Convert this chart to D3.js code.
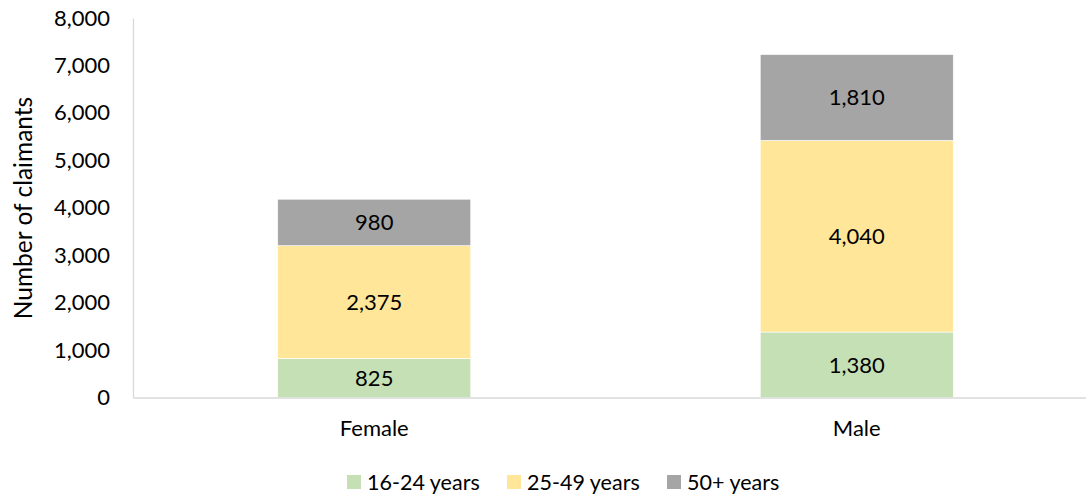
<!DOCTYPE html>
<html><head><meta charset="utf-8">
<script src="https://cdn.jsdelivr.net/npm/d3@7"></script>
<style>body{margin:0;background:#fff}svg{display:block;font-family:Lato,"Open Sans",sans-serif}</style>
</head><body><svg id="c" width="1086" height="495"></svg>
<script>
const categories = ["Female", "Male"];
const seriesNames = ["16-24 years", "25-49 years", "50+ years"];
const age16_24 = [825, 1380];
const age25_49 = [2375, 4040];
const age50plus = [980, 1810];
const yTicks = [0, 1000, 2000, 3000, 4000, 5000, 6000, 7000, 8000];
const colors = ["#C5E0B4", "#FFE699", "#A5A5A5"];

const svg = d3.select("#c");
const fmt = d3.format(",");
const rows = categories.map((c, i) => ({cat: c, "16-24 years": age16_24[i], "25-49 years": age25_49[i], "50+ years": age50plus[i]}));
const stack = d3.stack().keys(seriesNames)(rows);

const x = d3.scaleBand().domain(categories).range([133, 1098]).paddingInner(0.6).paddingOuter(0.3);
const y = d3.scaleLinear().domain([0, 8000]).range([397.5, 18]);

// y axis
const ya = svg.append("g").attr("transform", "translate(133,0)")
  .call(d3.axisLeft(y).tickValues(yTicks).tickFormat(fmt).tickSize(0).tickPadding(23));
ya.select(".domain").attr("stroke", "#d9d9d9").attr("stroke-width", 1.3);
ya.selectAll("text").attr("font-size", 22).attr("fill", "#000").attr("font-family", "Lato");

// bars
svg.append("g").selectAll("g").data(stack).join("g").attr("fill", (d, i) => colors[i])
  .selectAll("rect").data(d => d).join("rect")
  .attr("x", d => x(d.data.cat)).attr("width", x.bandwidth())
  .attr("y", d => y(d[1])).attr("height", d => y(d[0]) - y(d[1]))
  .attr("stroke", "#fff").attr("stroke-width", 0.6);

// labels
svg.append("g").selectAll("g").data(stack).join("g")
  .selectAll("text").data(d => d).join("text")
  .attr("x", d => x(d.data.cat) + x.bandwidth() / 2)
  .attr("y", d => (y(d[0]) + y(d[1])) / 2)
  .attr("dy", "0.36em").attr("text-anchor", "middle").attr("font-size", 22).attr("fill", "#000")
  .text(d => fmt(d[1] - d[0]));

// x axis
const xa = svg.append("g").attr("transform", "translate(0,397.5)")
  .call(d3.axisBottom(x).tickSize(0).tickPadding(23));
xa.select(".domain").attr("stroke", "#d9d9d9").attr("stroke-width", 1.3);
xa.selectAll("text").attr("font-size", 22).attr("fill", "#000").attr("font-family", "Lato");

// y title
svg.append("text").attr("transform", "translate(32,208) rotate(-90)").attr("text-anchor", "middle")
  .attr("font-size", 24.5).attr("fill", "#000").text("Number of claimants");

// legend
const legX = [347, 507, 667];
const lg = svg.append("g").selectAll("g").data(seriesNames).join("g")
  .attr("transform", (d, i) => `translate(${legX[i]},475)`);
lg.append("rect").attr("width", 14).attr("height", 14).attr("fill", (d, i) => colors[i]);
lg.append("text").attr("x", 20).attr("y", 7).attr("dy", "0.36em").attr("font-size", 21.5).attr("fill", "#000").text(d => d);
</script></body></html>
